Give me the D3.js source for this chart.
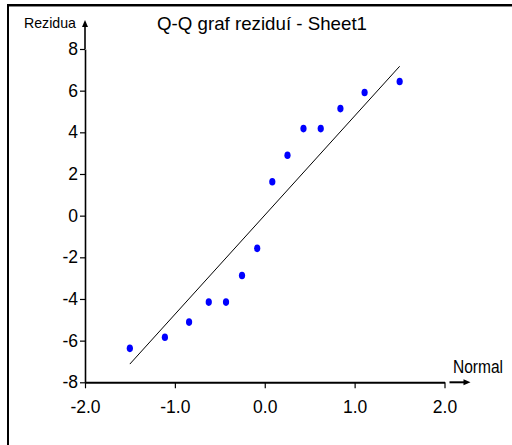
<!DOCTYPE html>
<html>
<head>
<meta charset="utf-8">
<script src="https://cdn.jsdelivr.net/npm/d3@7"></script>
<style>
  html, body { margin: 0; padding: 0; background: #fff; }
  svg { display: block; }
  text { font-family: "Liberation Sans", Arial, sans-serif; fill: #000; }
</style>
</head>
<body>
<script>
// Normal scores (expected quantiles) and the ordered residuals
const normalScores = [-1.501, -1.111, -0.842, -0.623, -0.431, -0.253, -0.084,
                       0.084,  0.253,  0.431,  0.623,  0.842,  1.111,  1.501];
const residuals    = [-6.37, -5.84, -5.11, -4.15, -4.15, -2.87, -1.57,
                       1.63,  2.90,  4.18,  4.18,  5.14,  5.91,  6.44];

const xTicks = [-2, -1, 0, 1, 2];
const xTickLabels = ["-2.0", "-1.0", "0.0", "1.0", "2.0"];
const yTicks = [-8, -6, -4, -2, 0, 2, 4, 6, 8];
const yTickLabels = ["-8", "-6", "-4", "-2", "0", "2", "4", "6", "8"];

const titleText = "Q-Q graf reziduí - Sheet1";
const xAxisTitle = "Normal";
const yAxisTitle = "Rezidua";

const W = 512, H = 445;
const svg = d3.select("body").append("svg").attr("width", W).attr("height", H);

// window frame (top and left edges)
svg.append("rect").attr("x", 7).attr("y", 4).attr("width", W - 7).attr("height", 2).attr("fill", "#000");
svg.append("rect").attr("x", 7).attr("y", 6).attr("width", W - 7).attr("height", 1).attr("fill", "#888");
svg.append("rect").attr("x", 7).attr("y", 4).attr("width", 2).attr("height", H - 4).attr("fill", "#000");

const x = d3.scaleLinear().domain([-2, 2]).range([85, 444.5]);
const y = d3.scaleLinear().domain([-8, 8]).range([382.3, 49]);

// x axis
const xAxis = d3.axisBottom(x).tickValues(xTicks)
  .tickFormat((d, i) => xTickLabels[i]).tickSize(6).tickSizeOuter(0).tickPadding(12);
const gx = svg.append("g").attr("transform", `translate(0,${y(-8)})`).call(xAxis);
gx.select(".domain").attr("stroke-width", 2).attr("stroke", "#000");
gx.selectAll(".tick line").attr("stroke", "#000").attr("stroke-width", 1.2);
gx.selectAll(".tick text").style("font-size", "17.5px").attr("font-family", null);

// y axis
const yAxis = d3.axisLeft(y).tickValues(yTicks)
  .tickFormat((d, i) => yTickLabels[i]).tickSize(5).tickSizeOuter(0).tickPadding(2);
const gy = svg.append("g").attr("transform", `translate(${x(-2)},0)`).call(yAxis);
gy.select(".domain").attr("stroke-width", 1.6).attr("stroke", "#000");
gy.selectAll(".tick line").attr("stroke", "#000").attr("stroke-width", 1.2);
gy.selectAll(".tick text").style("font-size", "17.5px").attr("font-family", null);

// axis arrows
const arrowHead = (tip, dir) => {
  const [tx, ty] = tip;
  const pts = dir === "up"
    ? [[tx, ty], [tx - 3, ty + 7], [tx + 3, ty + 7]]
    : [[tx, ty], [tx - 7, ty - 3], [tx - 7, ty + 3]];
  svg.append("path").attr("d", d3.line()(pts) + "Z").attr("fill", "#000");
};
svg.append("line").attr("x1", x(-2)).attr("x2", x(-2)).attr("y1", y(8)).attr("y2", 24)
  .attr("stroke", "#000").attr("stroke-width", 1.6);
arrowHead([x(-2), 20], "up");
svg.append("line").attr("x1", x(2) + 5).attr("x2", 466).attr("y1", y(-8)).attr("y2", y(-8))
  .attr("stroke", "#000").attr("stroke-width", 2);
arrowHead([470.5, y(-8)], "right");

// reference line: mean + sd * normal score
const m = d3.mean(residuals), sd = d3.deviation(residuals);
const xr = d3.extent(normalScores);
svg.append("line")
  .attr("x1", x(xr[0])).attr("y1", y(m + sd * xr[0]))
  .attr("x2", x(xr[1])).attr("y2", y(m + sd * xr[1]))
  .attr("stroke", "#000").attr("stroke-width", 1);

// points
svg.append("g").selectAll("ellipse")
  .data(normalScores.map((v, i) => [v, residuals[i]]))
  .join("ellipse")
  .attr("cx", d => x(d[0])).attr("cy", d => y(d[1]))
  .attr("rx", 3.1).attr("ry", 3.8)
  .attr("fill", "#0000ff");

// titles
svg.append("text").attr("x", 157).attr("y", 30)
  .attr("textLength", 210).attr("lengthAdjust", "spacingAndGlyphs")
  .style("font-size", "19px").text(titleText);
svg.append("text").attr("x", 24).attr("y", 28)
  .attr("textLength", 52).attr("lengthAdjust", "spacingAndGlyphs")
  .style("font-size", "15px").text(yAxisTitle);
svg.append("text").attr("x", 453).attr("y", 373)
  .attr("textLength", 50).attr("lengthAdjust", "spacingAndGlyphs")
  .style("font-size", "17.5px").text(xAxisTitle);
</script>
</body>
</html>
